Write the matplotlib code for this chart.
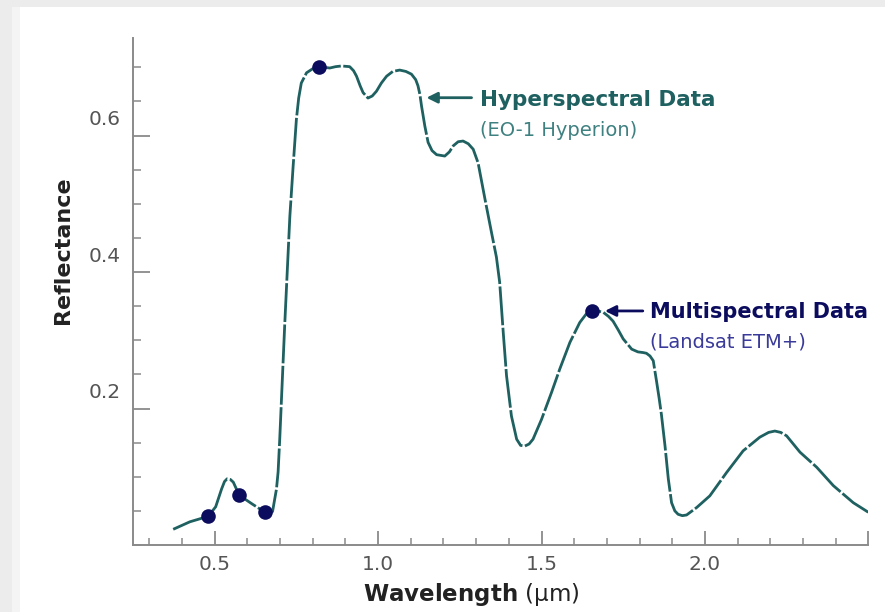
import matplotlib
matplotlib.use("Agg")
import matplotlib.pyplot as plt
from matplotlib.patches import Rectangle
from matplotlib.transforms import ScaledTranslation
from matplotlib.ticker import MultipleLocator, FixedLocator

# ---- data ----
wavelength = [0.373, 0.424, 0.480, 0.503, 0.521, 0.530, 0.538, 0.548, 0.557, 0.575,
              0.615, 0.654, 0.668, 0.677, 0.689, 0.694, 0.699, 0.714, 0.730, 0.740,
              0.750, 0.757, 0.765, 0.781, 0.800, 0.819, 0.852, 0.870, 0.888, 0.913,
              0.925, 0.934, 0.945, 0.954, 0.969, 0.982, 0.995, 1.010, 1.026, 1.045,
              1.066, 1.085, 1.102, 1.115, 1.122, 1.128, 1.133, 1.143, 1.153, 1.165,
              1.179, 1.204, 1.218, 1.230, 1.245, 1.260, 1.276, 1.291, 1.306, 1.327,
              1.347, 1.362, 1.372, 1.383, 1.393, 1.408, 1.424, 1.436, 1.449, 1.462,
              1.474, 1.500, 1.531, 1.556, 1.587, 1.617, 1.636, 1.653, 1.672, 1.689,
              1.705, 1.719, 1.735, 1.750, 1.776, 1.795, 1.811, 1.821, 1.832, 1.842,
              1.852, 1.860, 1.867, 1.878, 1.888, 1.898, 1.908, 1.918, 1.931, 1.944,
              1.975, 2.015, 2.066, 2.117, 2.168, 2.195, 2.214, 2.232, 2.250, 2.291,
              2.342, 2.393, 2.454, 2.500]
reflectance = [0.023, 0.034, 0.042, 0.056, 0.082, 0.093, 0.097, 0.096, 0.092, 0.073,
               0.060, 0.048, 0.046, 0.049, 0.082, 0.107, 0.155, 0.320, 0.482, 0.555,
               0.624, 0.655, 0.677, 0.692, 0.698, 0.701, 0.699, 0.701, 0.702, 0.701,
               0.695, 0.687, 0.673, 0.663, 0.655, 0.658, 0.665, 0.677, 0.687, 0.694,
               0.696, 0.694, 0.690, 0.682, 0.673, 0.660, 0.643, 0.614, 0.590, 0.578,
               0.572, 0.570, 0.576, 0.585, 0.591, 0.592, 0.588, 0.580, 0.560, 0.507,
               0.458, 0.422, 0.385, 0.311, 0.248, 0.189, 0.155, 0.146, 0.145, 0.148,
               0.155, 0.184, 0.224, 0.258, 0.297, 0.326, 0.338, 0.343, 0.343, 0.341,
               0.335, 0.328, 0.315, 0.302, 0.287, 0.283, 0.282, 0.281, 0.277, 0.270,
               0.240, 0.215, 0.191, 0.145, 0.097, 0.062, 0.050, 0.045, 0.043, 0.044,
               0.055, 0.072, 0.106, 0.138, 0.158, 0.165, 0.167, 0.165, 0.160, 0.136,
               0.114, 0.087, 0.062, 0.048]

band_wavelength = [0.480, 0.575, 0.654, 0.819, 1.653]
band_reflectance = [0.042, 0.073, 0.048, 0.701, 0.343]

x_tick_values = [0.5, 1.0, 1.5, 2.0]
x_tick_labels = ["0.5", "1.0", "1.5", "2.0"]
y_tick_values = [0.2, 0.4, 0.6]
y_tick_labels = ["0.2", "0.4", "0.6"]

TEAL = "#1f6060"
TEAL_LIGHT = "#3f8080"
NAVY = "#0c0c5e"
NAVY_LIGHT = "#3a3a9a"
AXIS_GRAY = "#8a8a8a"

W, H, DPI = 885, 612, 100
fig = plt.figure(figsize=(W / DPI, H / DPI), dpi=DPI)
fig.patch.set_facecolor("#ececec")
card = Rectangle((20 / W, 0), 1 - 20 / W, 1 - 7 / H,
                 transform=fig.transFigure, facecolor="white",
                 edgecolor="none", zorder=-10)
fig.add_artist(card)
shade = Rectangle((12 / W, 0), 8 / W, 1 - 7 / H, transform=fig.transFigure,
                  facecolor="#f4f4f4", edgecolor="none", zorder=-9)
fig.add_artist(shade)

ax = fig.add_axes([133 / W, 1 - 545 / H, (868.3 - 133) / W, (545 - 38) / H])
ax.set_zorder(1)
ax.set_facecolor("none")

lw = 2.0
line, = ax.plot(wavelength, reflectance, color=TEAL, lw=lw, solid_capstyle="butt",
                dash_capstyle="butt")
line.set_dashes((14, 0.9))
ax.plot(band_wavelength, band_reflectance, "o", color=NAVY, ms=10.5, zorder=5,
        markeredgewidth=0)

ax.set_xlim(0.25, 2.5)
ax.set_ylim(0, 0.743)

for s in ["top", "right"]:
    ax.spines[s].set_visible(False)
for s in ["left", "bottom"]:
    ax.spines[s].set_color(AXIS_GRAY)
    ax.spines[s].set_linewidth(1.4)

ax.xaxis.set_major_locator(FixedLocator([0.5, 1.0, 1.5, 2.0, 2.5]))
ax.set_xticklabels(x_tick_labels + [""])
ax.xaxis.set_minor_locator(MultipleLocator(0.1))
ax.yaxis.set_major_locator(FixedLocator(y_tick_values))
ax.set_yticklabels(y_tick_labels)
ax.yaxis.set_minor_locator(MultipleLocator(0.05))

ax.tick_params(axis="x", which="major", direction="in", length=10, width=1.3,
               color=AXIS_GRAY, labelsize=14.5, labelcolor="#555555", pad=7)
ax.tick_params(axis="x", which="minor", direction="in", length=5, width=1.1,
               color=AXIS_GRAY)
ax.tick_params(axis="y", which="major", direction="in", length=12, width=1.3,
               color=AXIS_GRAY, labelsize=14.5, labelcolor="#555555", pad=9)
ax.tick_params(axis="y", which="minor", direction="in", length=6, width=1.1,
               color=AXIS_GRAY)

offset = ScaledTranslation(0, 18 / DPI, fig.dpi_scale_trans)
for lab in ax.get_yticklabels():
    lab.set_transform(lab.get_transform() + offset)

# axis titles placed like the reference
fig.text(63 / W, 1 - 250 / H, "Reflectance", rotation=90, fontsize=16,
         fontweight="bold", color="#222222", ha="center", va="center")
fig.text(471 / W, 1 - 594 / H, r"$\mathbf{Wavelength}$ (µm)", fontsize=16.5,
         color="#222222", ha="center", va="center")

# annotations
ax.annotate("", xy=(1.148, 0.6555), xytext=(1.286, 0.6555),
            arrowprops=dict(arrowstyle="-|>", color=TEAL, lw=2,
                            mutation_scale=16, shrinkA=0, shrinkB=0))
ax.text(1.311, 0.6525, "Hyperspectral Data", fontsize=15.5, fontweight="bold",
        color=TEAL, va="center", ha="left")
ax.text(1.311, 0.608, "(EO-1 Hyperion)", fontsize=14, color=TEAL_LIGHT,
        va="center", ha="left")

ax.annotate("", xy=(1.694, 0.343), xytext=(1.810, 0.343),
            arrowprops=dict(arrowstyle="-|>", color=NAVY, lw=2,
                            mutation_scale=16, shrinkA=0, shrinkB=0))
ax.text(1.832, 0.341, "Multispectral Data", fontsize=15, fontweight="bold",
        color=NAVY, va="center", ha="left")
ax.text(1.832, 0.297, "(Landsat ETM+)", fontsize=14, color=NAVY_LIGHT,
        va="center", ha="left")

fig.savefig("out.png", dpi=DPI, facecolor=fig.get_facecolor())
